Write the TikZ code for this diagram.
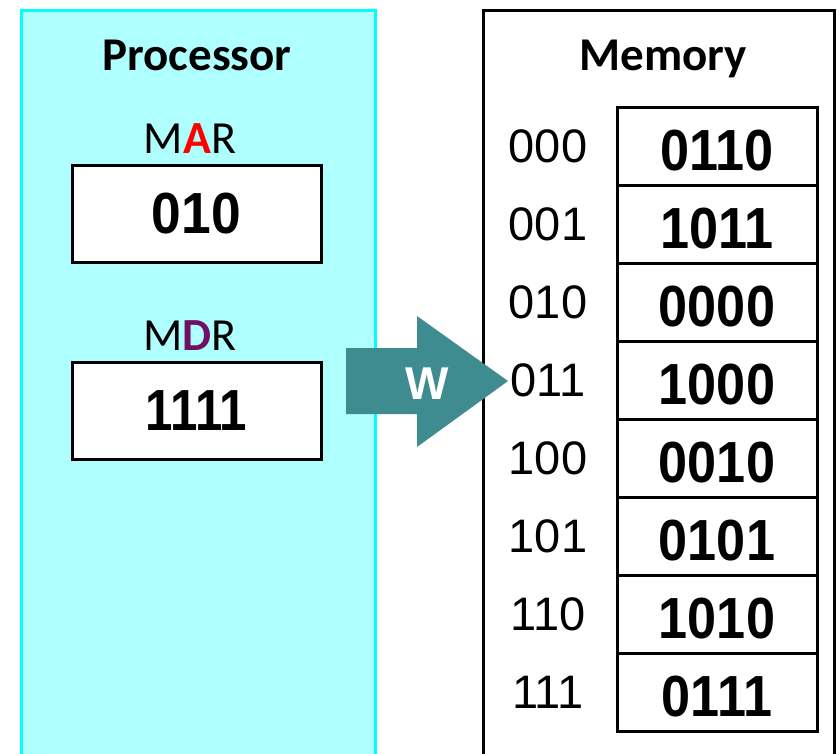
\documentclass[tikz,border=0pt]{standalone}
\usepackage{fontspec}
\setmainfont{Liberation Sans}
\newfontfamily\calib{Carlito}
\definecolor{procfill}{RGB}{176,255,255}
\definecolor{procline}{RGB}{0,255,255}
\definecolor{arrowteal}{RGB}{62,139,144}
\definecolor{dpurple}{RGB}{112,16,100}
\begin{document}
\begin{tikzpicture}[x=1pt,y=-1pt,
  title/.style={anchor=base,inner sep=0pt,font=\calib\fontsize{47}{50}\selectfont\bfseries},
  reglabel/.style={anchor=base,inner sep=0pt,font=\calib\fontsize{46}{50}\selectfont},
  regbox/.style={draw=black,line width=3pt,fill=white,minimum width=249pt,minimum height=97pt,inner sep=0pt,font=\fontsize{58}{62}\selectfont\bfseries},
  cell/.style={draw=black,line width=3pt,fill=white,minimum width=200pt,minimum height=78pt,inner sep=0pt},
  addr/.style={inner sep=0pt,font=\fontsize{47}{50}\selectfont},
  val/.style={inner sep=0pt,font=\fontsize{58}{62}\selectfont\bfseries}]
\useasboundingbox (0,0) rectangle (840,753);
% Processor
\node[draw=procline,fill=procfill,line width=3pt,minimum width=353.5pt,minimum height=760pt,inner sep=0pt,anchor=north west] (proc) at (20,8.5) {};
\node[title] (ptitle) at (197,70) {Processor};
\node[reglabel] (marl) at (190,153) {M\textcolor{red}{\bfseries A}R};
\node[regbox] (mar) at (196.5,213.5) {\scalebox{0.92}[1]{010}};
\node[reglabel] (mdrl) at (190,350) {M\textcolor{dpurple}{\bfseries D}R};
\node[regbox] (mdr) at (196.5,411) {\scalebox{0.85}[1]{1111}};
% Memory
\node[draw=black,line width=3pt,fill=white,minimum width=351pt,minimum height=751pt,inner sep=0pt,anchor=north west] (mem) at (482,9) {};
\node[title] (mtitle) at (663,70) {Memory};
\foreach \i/\a/\v in {0/000/0110,1/001/1011,2/010/0000,3/011/1000,4/100/0010,5/101/0101,6/110/1010,7/111/0111}{
  \node[cell] (c\i) at (717,{146+78*\i}) {};
  \node[addr] (a\i) at (548,{146+78*\i}) {\a};
  \node[val] (v\i) at ([yshift=-5pt]c\i.center) {\scalebox{0.9}[1]{\v}};
}
% Arrow
\fill[arrowteal] (346,348) -- (417,348) -- (417,316) -- (508,381) -- (417,447) -- (417,414) -- (346,414) -- cycle;
\node[inner sep=0pt,text=white,font=\fontsize{46}{50}\selectfont\bfseries] (w) at (427,384) {W};
\end{tikzpicture}
\end{document}
